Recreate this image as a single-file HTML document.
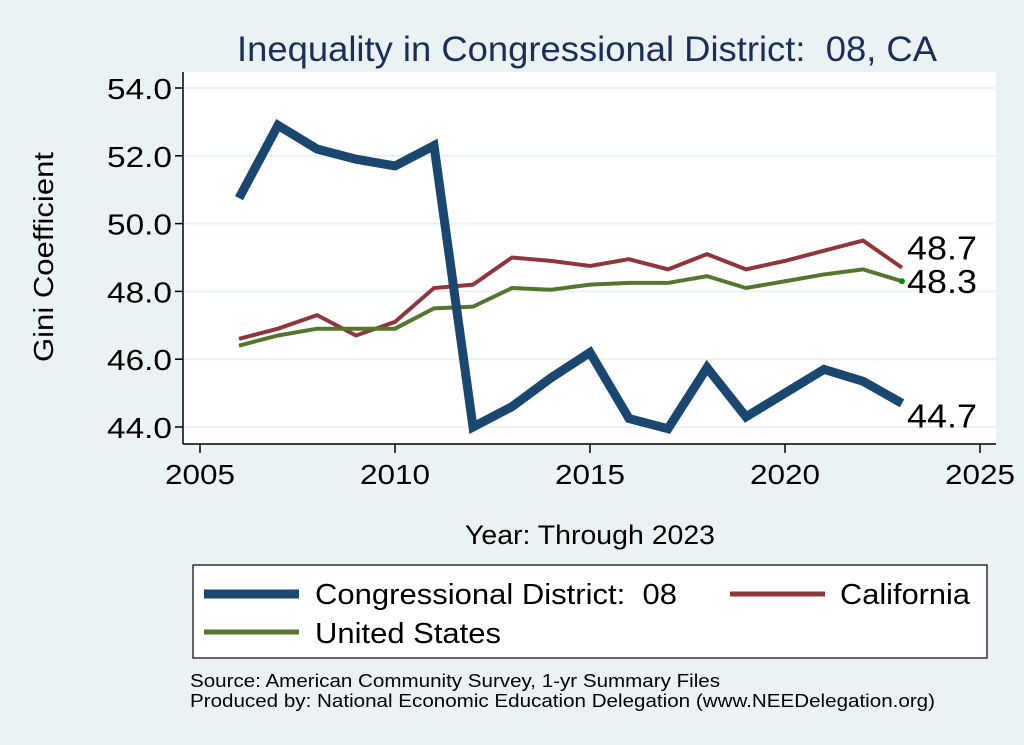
<!DOCTYPE html>
<html><head><meta charset="utf-8"><style>
body{margin:0;background:#eaf2f3;font-family:"Liberation Sans",sans-serif}
svg{display:block}
text{white-space:pre}
</style></head><body>
<svg width="1024" height="745">
<rect width="1024" height="745" fill="#eaf2f3"/>
<text x="587" y="61" font-size="35" fill="#1a2e57" text-anchor="middle" textLength="700" lengthAdjust="spacingAndGlyphs">Inequality in Congressional District:  08, CA</text>
<rect x="183" y="72" width="813" height="372" fill="#fff"/>
<g id="grid"></g>
<line x1="183" y1="72" x2="183" y2="444" stroke="#000" stroke-width="1.5"/>
<line x1="183" y1="444" x2="996" y2="444" stroke="#000" stroke-width="1.5"/>
<g id="ticks"></g>
<g id="series"></g>
<text x="53" y="257" font-size="28" text-anchor="middle" textLength="210" lengthAdjust="spacingAndGlyphs" transform="rotate(-90 53 257)">Gini Coefficient</text>
<text x="590" y="544" font-size="27" text-anchor="middle" textLength="250" lengthAdjust="spacingAndGlyphs">Year: Through 2023</text>
<g>
<rect x="193" y="565" width="794" height="93" fill="#fff" stroke="#000" stroke-width="1.2"/>
<line x1="204" y1="594" x2="299" y2="594" stroke="#1a476f" stroke-width="9"/>
<text x="315" y="604" font-size="29" textLength="362" lengthAdjust="spacingAndGlyphs">Congressional District:  08</text>
<line x1="730" y1="594" x2="825" y2="594" stroke="#90353b" stroke-width="5"/>
<text x="840" y="604" font-size="29" textLength="130" lengthAdjust="spacingAndGlyphs">California</text>
<line x1="204" y1="632" x2="299" y2="632" stroke="#55752f" stroke-width="5"/>
<text x="315" y="643" font-size="29" textLength="186" lengthAdjust="spacingAndGlyphs">United States</text>
</g>
<text x="190" y="687" font-size="18" textLength="530" lengthAdjust="spacingAndGlyphs">Source: American Community Survey, 1-yr Summary Files</text>
<text x="190" y="707" font-size="18" textLength="745" lengthAdjust="spacingAndGlyphs">Produced by: National Economic Education Delegation (www.NEEDelegation.org)</text>
</svg>
<script>
const years=[2006,2007,2008,2009,2010,2011,2012,2013,2014,2015,2016,2017,2018,2019,2020,2021,2022,2023];
const district=[50.75,52.9,52.2,51.9,51.7,52.3,44.0,44.6,45.45,46.2,44.25,43.95,45.75,44.3,45.0,45.7,45.35,44.7];
const california=[46.6,46.9,47.3,46.7,47.1,48.1,48.2,49.0,48.9,48.75,48.95,48.65,49.1,48.65,48.9,49.2,49.5,48.7];
const us=[46.4,46.7,46.9,46.9,46.9,47.5,47.55,48.1,48.05,48.2,48.25,48.25,48.45,48.1,48.3,48.5,48.65,48.3];
const yTicks=[44,46,48,50,52,54];
const xTicks=[2005,2010,2015,2020,2025];
const NS="http://www.w3.org/2000/svg";
const X=v=>200+(v-2005)*39;
const Y=v=>427-(v-44)*33.9;
function mk(t,a,p){const e=document.createElementNS(NS,t);for(const k in a)e.setAttribute(k,a[k]);p.appendChild(e);return e;}
const grid=document.getElementById('grid'),ticks=document.getElementById('ticks'),ser=document.getElementById('series');
yTicks.forEach(v=>{
 const g=mk('line',{x1:184,x2:996,y1:Y(v),y2:Y(v),stroke:'#eaf2f3','stroke-width':2},grid);
 
 
 const t=mk('line',{x1:175,x2:183,y1:Y(v),y2:Y(v),stroke:'#000','stroke-width':1.5},ticks);
 
 
 const l=mk('text',{x:172,y:Y(v)+11,'font-size':29,'text-anchor':'end',textLength:65,lengthAdjust:'spacingAndGlyphs'},ticks);l.textContent=v.toFixed(1);
 
 
});
xTicks.forEach(v=>{
 const t=mk('line',{x1:X(v),x2:X(v),y1:444,y2:453,stroke:'#000','stroke-width':1.5},ticks);
 
 
 const l=mk('text',{x:X(v),y:484,'font-size':28,'text-anchor':'middle',textLength:70,lengthAdjust:'spacingAndGlyphs'},ticks);l.textContent=v;
 
 
});
function line(vals,color,w,name){
 const p=mk('polyline',{points:years.map((y,i)=>X(y)+','+Y(vals[i])).join(' '),fill:'none',stroke:color,'stroke-width':w,'stroke-linejoin':'miter'},ser);
 
 
}
line(california,'#90353b',4,'line-california');
line(us,'#55752f',4,'line-us');
line(district,'#1a476f',9,'line-district');
const n=years.length-1;
const d=mk('circle',{cx:X(years[n]),cy:Y(us[n]),r:3,fill:'#0a8a0a'},ser);


[[california,-8,'label-california'],[us,12,'label-us'],[district,24,'label-district']].forEach(([a,dy,nm])=>{
 const t=mk('text',{x:X(years[n])+5,y:Y(a[n])+dy,'font-size':33,textLength:70,lengthAdjust:'spacingAndGlyphs'},ser);t.textContent=a[n].toFixed(1);
 
 
});
</script>
</body></html>
